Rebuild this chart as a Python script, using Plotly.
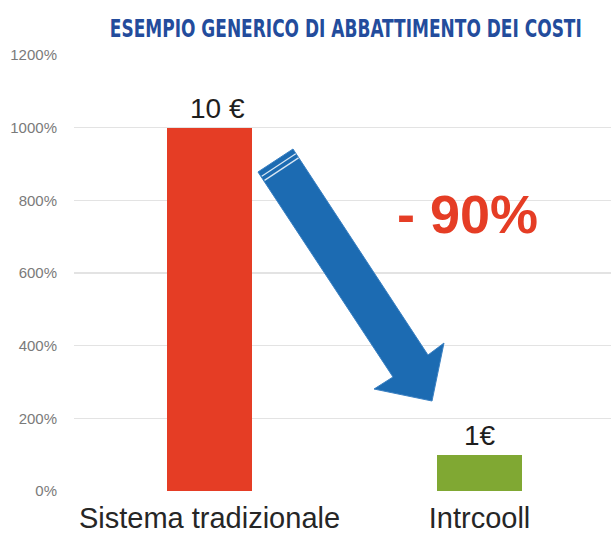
import plotly.graph_objects as go

# ---- data ----
categories = ["Sistema tradizionale", "Intrcooll"]
percent_values = [1000, 100]
cost_labels = ["10 €", "1€"]
bar_colors = ["#E53D25", "#80A833"]
y_ticks = [0, 200, 400, 600, 800, 1000, 1200]
y_tick_labels = ["0%", "200%", "400%", "600%", "800%", "1000%", "1200%"]
title_text = "ESEMPIO GENERICO DI ABBATTIMENTO DEI COSTI"
reduction_text = "- 90%"

W, H = 611, 535
ML, MR, MT, MB = 74, 0, 55, 44
PW = W - ML - MR
PH = H - MT - MB


def paper(px, py):
    return (px - ML) / PW, (H - MB - py) / PH


fig = go.Figure()
fig.add_trace(go.Bar(
    x=[0, 1], y=percent_values,
    marker=dict(color=bar_colors, line=dict(width=0)),
    width=0.315, hoverinfo="skip",
))

# value labels above bars
label_shift = [8, 0]
for i, (v, t) in enumerate(zip(percent_values, cost_labels)):
    fig.add_annotation(x=i, y=v, text=t, showarrow=False, yanchor="bottom",
                       xshift=label_shift[i], yshift=2,
                       font=dict(family="Liberation Sans, Arial, sans-serif", size=28, color="#1E1E1E"))

# arrow (decorative)
pts = [(258, 172), (293, 149), (428, 355), (444, 343), (432, 401), (374, 389), (393, 377)]
pp = [paper(*p) for p in pts]
path = "M " + " L ".join(f"{x:.4f},{y:.4f}" for x, y in pp) + " Z"
fig.add_shape(type="path", path=path, xref="paper", yref="paper",
              fillcolor="#1C6BB2", line=dict(color="#3A80C2", width=1), layer="above")
u = (135 / 245.5, 205 / 245.5)
for d in (5, 10):
    x0, y0 = paper(258 + u[0] * d + 1, 172 + u[1] * d)
    x1, y1 = paper(293 + u[0] * d, 149 + u[1] * d + 0.5)
    fig.add_shape(type="line", x0=x0, y0=y0, x1=x1, y1=y1, xref="paper", yref="paper",
                  line=dict(color="#D8E6F4", width=1.3), layer="above")

rx, ry = paper(467, 214)
fig.add_annotation(x=rx, y=ry, xref="paper", yref="paper", text=reduction_text,
                   showarrow=False, xanchor="center", yanchor="middle",
                   font=dict(family="Liberation Sans, Arial, sans-serif", size=54, color="#E53D25", weight=700))

tx, ty = paper(346, 28)
fig.add_annotation(x=tx, y=ty, xref="paper", yref="paper", text=title_text,
                   showarrow=False, xanchor="center", yanchor="middle",
                   font=dict(family="DejaVu Sans Condensed, Liberation Sans, sans-serif",
                             size=20, color="#234C9C", weight=700))

fig.update_layout(
    width=W, height=H,
    margin=dict(l=ML, r=MR, t=MT, b=MB, autoexpand=False),
    paper_bgcolor="white", plot_bgcolor="white",
    showlegend=False, bargap=0,
    xaxis=dict(range=[-0.5019, 1.487], tickmode="array", tickvals=[0, 1], ticktext=categories,
               showgrid=False, zeroline=False, showline=False, ticks="",
               ticklabelstandoff=7, automargin=False,
               tickfont=dict(family="Liberation Sans, Arial, sans-serif", size=29, color="#262626")),
    yaxis=dict(range=[0, 1200], tickmode="array", tickvals=y_ticks, ticktext=y_tick_labels,
               showgrid=True, gridcolor="#E3E3E3", gridwidth=1.6,
               zeroline=True, zerolinecolor="white", zerolinewidth=2,
               showline=False, ticks="", ticklabelstandoff=16, automargin=False,
               tickfont=dict(family="Liberation Sans, Arial, sans-serif", size=15, color="#7A7A7A")),
)

post = """
document.body.style.margin = '0';
var gd = document.getElementById('{plot_id}');
function fixTitle() {
  gd.querySelectorAll('text.annotation-text').forEach(function (t) {
    if (t.textContent.indexOf('ESEMPIO') === 0 && !t.getAttribute('data-fixed')) {
      t.setAttribute('textLength', '472');
      t.setAttribute('lengthAdjust', 'spacingAndGlyphs');
      var bb = t.getBBox();
      var cy = bb.y + bb.height / 2;
      t.setAttribute('transform', 'translate(0,' + cy + ') scale(1,1.28) translate(0,' + (-cy) + ')');
      t.setAttribute('data-fixed', '1');
    }
  });
}
fixTitle();
setTimeout(fixTitle, 50);
if (gd.on) { gd.on('plotly_afterplot', fixTitle); }
"""

fig.write_html("out.html", post_script=post, config={"displayModeBar": False, "staticPlot": True})
